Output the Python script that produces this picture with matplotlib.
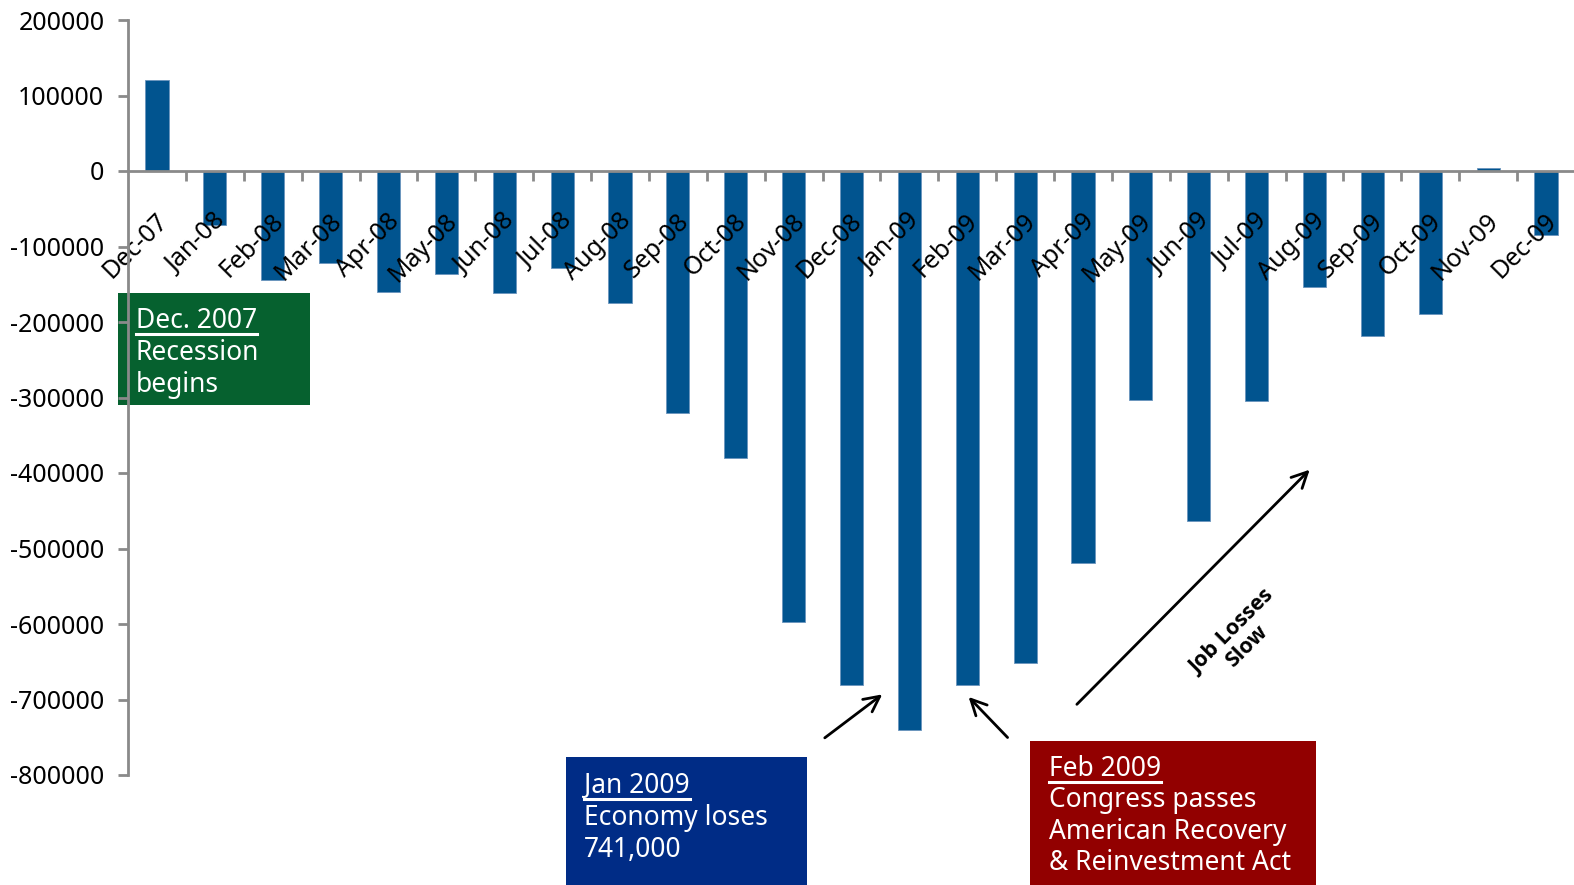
import matplotlib
matplotlib.use('Agg')
import matplotlib.pyplot as plt
import matplotlib.transforms as mtransforms
from matplotlib.patches import Rectangle
from matplotlib.lines import Line2D
import numpy as np

months = ['Dec-07', 'Jan-08', 'Feb-08', 'Mar-08', 'Apr-08', 'May-08', 'Jun-08',
          'Jul-08', 'Aug-08', 'Sep-08', 'Oct-08', 'Nov-08', 'Dec-08', 'Jan-09',
          'Feb-09', 'Mar-09', 'Apr-09', 'May-09', 'Jun-09', 'Jul-09', 'Aug-09',
          'Sep-09', 'Oct-09', 'Nov-09', 'Dec-09']
jobs = [120000, -72000, -144000, -122000, -160000, -137000, -161000,
        -128000, -175000, -321000, -380000, -597000, -681000, -741000,
        -681000, -652000, -519000, -303000, -463000, -304000, -154000,
        -219000, -190000, 4000, -85000]
yticks = [200000, 100000, 0, -100000, -200000, -300000, -400000,
          -500000, -600000, -700000, -800000]

plt.rcParams['font.family'] = ['Noto Sans', 'DejaVu Sans']
plt.rcParams['axes.unicode_minus'] = False

W, H = 1574, 885
fig = plt.figure(figsize=(W / 100, H / 100), dpi=100, facecolor='white')
ax = fig.add_axes([128 / W, 1 - 775 / H, (1575 - 128) / W, (775 - 20) / H])
ax.patch.set_visible(False)

gray = '#8a8a8a'
for s in ['top', 'right']:
    ax.spines[s].set_visible(False)
ax.spines['bottom'].set_position(('data', 0))
for s in ['left', 'bottom']:
    ax.spines[s].set_color(gray)
    ax.spines[s].set_linewidth(2)

x = np.arange(len(months))
ax.bar(x, jobs, width=0.4, color='#01548f', edgecolor='#6a94bd', linewidth=0.6)

ax.set_xlim(-0.5, len(months) - 0.5)
ax.set_ylim(-800000, 200000)
ax.set_yticks(yticks)
ax.set_yticklabels([str(v) for v in yticks], fontsize=18)
ax.set_xticks(x)
ax.set_xticks(x[:-1] + 0.5, minor=True)
ax.set_xticklabels(months, rotation=45, ha='right', va='top', fontsize=18)

ax.tick_params(axis='x', which='major', length=0, pad=27)
ax.tick_params(axis='x', which='minor', length=7, width=2, color=gray, direction='out')
ax.tick_params(axis='y', length=7, width=2, color=gray, pad=10)

# nudge month labels right so they end just past the bar centre
shift = mtransforms.ScaledTranslation(16 / 100, 0, fig.dpi_scale_trans)
for lab in ax.get_xticklabels():
    lab.set_transform(lab.get_transform() + shift)


def note_box(x0, y0, x1, y1, color, lines, tx, ty0, step=32, size=19):
    fig.add_artist(Rectangle((x0 / W, 1 - y1 / H), (x1 - x0) / W, (y1 - y0) / H,
                             transform=fig.transFigure, facecolor=color,
                             edgecolor='none', zorder=-1))
    texts = []
    for i, line in enumerate(lines):
        t = fig.text(tx / W, 1 - (ty0 + i * step) / H, line, color='white',
                     fontsize=size, va='baseline', ha='left', zorder=5)
        texts.append(t)
    return texts[0]


first = [
    note_box(118, 293, 310, 405, '#06612f',
             ['Dec. 2007', 'Recession', 'begins'], 136, 328),
    note_box(566, 757, 807, 885, '#002c86',
             ['Jan 2009', 'Economy loses', '741,000'], 584, 793),
    note_box(1030, 741, 1316, 885, '#920000',
             ['Feb 2009', 'Congress passes', 'American Recovery',
              '& Reinvestment Act'], 1049, 776, step=31.5),
]

arrow = dict(arrowstyle='->', lw=2, color='black', mutation_scale=28)
ax.annotate('', xy=(12.57, -691000), xytext=(11.5, -753000), arrowprops=arrow)
ax.annotate('', xy=(13.99, -694000), xytext=(14.73, -753000), arrowprops=arrow)
ax.annotate('', xy=(19.95, -393000), xytext=(15.86, -709000), arrowprops=arrow)
ax.text(18.7, -620000, 'Job Losses\nSlow', rotation=45, ha='center', va='center',
        multialignment='center', fontsize=15.5, fontweight='bold', linespacing=1.0,
        family=['Open Sans', 'DejaVu Sans'])

# underline the first line of each box
fig.canvas.draw()
r = fig.canvas.get_renderer()
for t in first:
    bb = t.get_window_extent(r)
    yl = bb.y0 + 1
    fig.add_artist(Line2D([bb.x0 / W, bb.x1 / W], [yl / H, yl / H],
                          transform=fig.transFigure, color='white', lw=2.2, zorder=5))

plt.savefig('out.png', dpi=100)
